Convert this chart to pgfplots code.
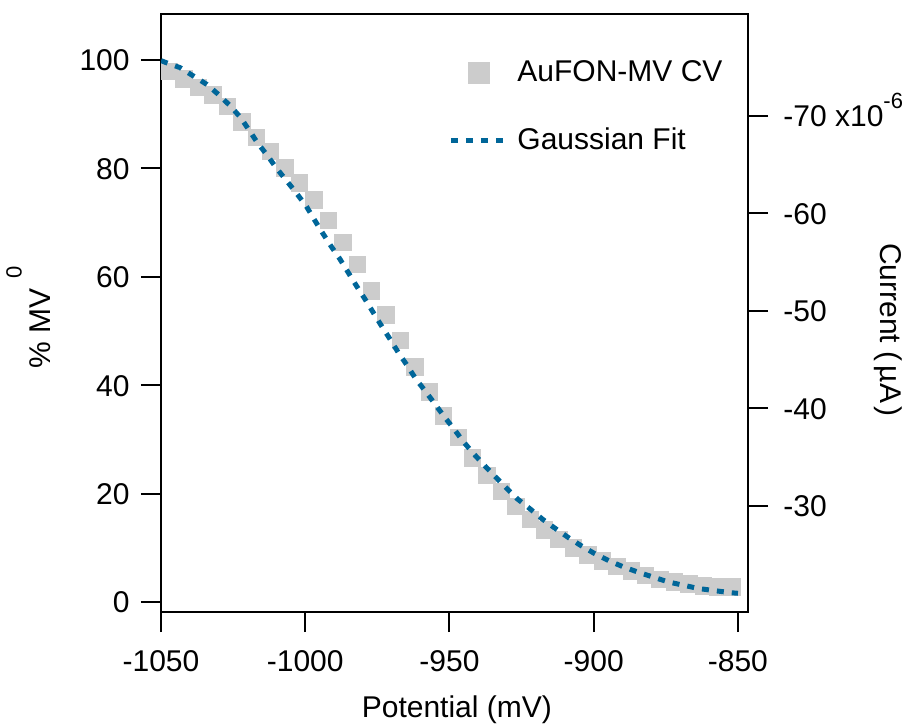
\documentclass[border=0pt]{standalone}
\usepackage{fontspec}
\setmainfont{Liberation Sans}
\usepackage{pgfplots}
\usepackage{pgfplotstable}
\pgfplotsset{compat=1.18}
\definecolor{fitblue}{RGB}{0,102,153}
\definecolor{sqgray}{RGB}{204,204,204}
\pgfplotsset{
  sqlegend/.style={legend image code/.code={\draw[##1, mark size=5.2pt] plot coordinates {(14pt,0pt)};}},
  linelegend/.style={legend image code/.code={\draw[##1] (0pt,0pt) -- (28pt,0pt);}},
}

\pgfplotstableread{
x y
-1047 97.9
-1042 96.5
-1037 95.0
-1032 93.6
-1027 91.5
-1022 88.6
-1017 85.7
-1012 83.1
-1007 80.1
-1002 77.3
-997 74.2
-992 70.4
-987 66.4
-982 62.3
-977 57.4
-972 53.0
-967 48.3
-962 43.4
-957 38.8
-952 34.3
-947 30.4
-942 26.6
-937 23.4
-932 20.4
-927 17.6
-922 15.2
-917 13.3
-912 11.5
-907 10.0
-902 8.7
-897 7.6
-892 6.6
-887 5.7
-882 4.9
-877 4.2
-872 3.7
-867 3.3
-862 3.0
-857 2.8
-852 2.8
}\cvdata

\pgfplotstableread{
x y
-1050.0 99.9
-1048.6 99.6
-1043.4 98.6
-1038.9 97.1
-1034.1 95.5
-1030.2 93.7
-1026.1 91.6
-1022.4 89.4
-1019.5 87.1
-1016.5 84.7
-1013.0 82.3
-1009.9 80.0
-1006.4 77.7
-1003.0 75.4
-999.7 73.1
-996.9 70.6
-994.0 68.1
-991.1 65.7
-988.0 63.3
-985.1 60.8
-982.2 58.3
-979.3 55.9
-976.4 53.4
-973.5 50.9
-970.6 48.5
-967.7 46.0
-964.6 43.6
-961.6 41.1
-958.2 38.8
-955.0 36.5
-951.8 34.2
-948.4 31.9
-945.2 29.6
-941.7 27.4
-937.7 25.1
-933.9 23.0
-930.2 21.0
-926.4 19.0
-922.1 17.2
-917.8 15.3
-913.4 13.6
-908.8 11.9
-904.4 10.4
-899.9 9.0
-894.7 7.6
-889.8 6.5
-884.6 5.5
-879.4 4.6
-874.2 3.7
-869.0 3.1
-863.8 2.5
-858.3 2.1
-852.2 1.7
-850.0 1.6
}\fitdata

\begin{document}
\begin{tikzpicture}[font=\fontsize{15}{18}\selectfont]
\begin{axis}[
  name=main,
  scale only axis, width=293.5pt, height=299pt,
  xmin=-1050, xmax=-846.5, ymin=-1.85, ymax=108.5,
  clip marker paths=true,
  xtick={-1050,-1000,-950,-900,-850},
  ytick={0,20,40,60,80,100},
  xtick pos=bottom, ytick pos=left,
  tick align=outside, major tick length=10pt,
  axis line style={line width=1pt},
  every tick/.style={line width=1pt, black},
  /pgf/number format/assume math mode=true,
  /pgf/number format/1000 sep={},
  tick label style={font=\fontsize{15}{18}\selectfont, inner sep=0pt},
  xticklabel style={anchor=base, yshift=-19.5pt},
  yticklabel style={anchor=base east, xshift=-5.5pt, yshift=-5.4pt},
  xlabel={Potential (mV)},
  xlabel style={at={(axis description cs:0.504,-0.177)}, anchor=base, inner sep=0pt},
  ylabel={\% MV\hspace{0.35em}\raisebox{0.95em}{\fontsize{11}{11}\selectfont 0}},
  ylabel style={at={(axis description cs:-0.189,0.493)}, anchor=base, inner sep=0pt, rotate=0},
  legend style={draw=none, fill=none, at={(axis description cs:0.489,0.845)}, anchor=west,
    inner sep=0pt, row sep=21.5pt, column sep=4pt, nodes={inner sep=0pt}},
  legend cell align=left,
]
\addplot[only marks, mark=square*, mark size=4.1pt, sqgray, mark options={draw=none, fill=sqgray}, sqlegend]
  table[x=x, y=y] {\cvdata};
\addlegendentry{AuFON-MV CV}
\addplot[fitblue, line width=2.5pt, dash pattern=on 3.5pt off 4pt, no marks, linelegend]
  table[x=x, y=y] {\fitdata};
\addlegendentry{Gaussian Fit}
\end{axis}
\begin{axis}[
  scale only axis, width=293.5pt, height=299pt,
  xmin=-1050, xmax=-846.5, ymin=19.13, ymax=80.46,
  axis x line=none, axis y line*=right,
  tick align=outside, major tick length=10pt,
  axis line style={line width=1pt},
  every tick/.style={line width=1pt, black},
  ytick={30,40,50,60,70},
  yticklabels={-30,-40,-50,-60,{-70 x10\raisebox{0.62em}{\fontsize{11}{11}\selectfont -6}}},
  tick label style={font=\fontsize{15}{18}\selectfont, inner sep=0pt},
  yticklabel style={anchor=base west, xshift=7.5pt, yshift=-5.4pt},
  ylabel={Current (\hspace{0.15em}µA\hspace{0.12em})},
  ylabel style={at={(axis description cs:1.226,0.4716)}, anchor=base, inner sep=0pt, rotate=180},
]
\addplot[draw=none, forget plot] coordinates {(-1000,50)};
\end{axis}
\pgfresetboundingbox
\path ([shift={(-80.5pt,-57.5pt)}]main.south west) rectangle ([shift={(83pt,7pt)}]main.north east);
\end{tikzpicture}
\end{document}
